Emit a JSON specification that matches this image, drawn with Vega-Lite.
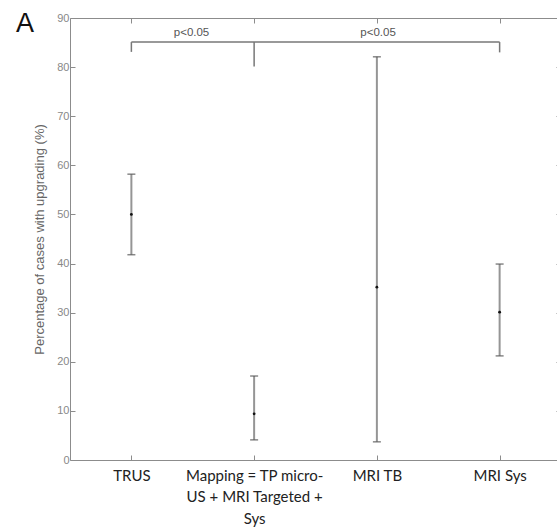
{
  "$schema": "https://vega.github.io/schema/vega-lite/v6.json",
  "width": 491,
  "height": 442,
  "autosize": {"type": "none"},
  "padding": {"left": 70, "top": 18, "right": 0, "bottom": 69},
  "background": "white",
  "title": {"text": "A", "anchor": "start", "frame": "group", "dx": -54, "dy": 53, "fontSize": 27, "font": "Liberation Sans", "fontWeight": "normal", "color": "#111", "baseline": "bottom", "offset": 0},
  "config": {"view": {"stroke": null}},
  "datasets": {
    "main": [
      {"group": "TRUS", "pos": 1, "mean": 50.0, "lo": 41.8, "hi": 58.2},
      {"group": "Mapping = TP micro-US + MRI Targeted + Sys", "pos": 2, "mean": 9.4, "lo": 4.1, "hi": 17.1},
      {"group": "MRI TB", "pos": 3, "mean": 35.2, "lo": 3.7, "hi": 82.1},
      {"group": "MRI Sys", "pos": 4, "mean": 30.1, "lo": 21.2, "hi": 39.9}
    ],
    "bracket": [
      {"x": 1, "x2": 4, "y": 85.1, "y2": 85.1},
      {"x": 1, "x2": 1, "y": 85.1, "y2": 83.1},
      {"x": 2, "x2": 2, "y": 85.1, "y2": 80.1},
      {"x": 4, "x2": 4, "y": 85.1, "y2": 83.0}
    ],
    "labels": [
      {"x": 1.49, "y": 86.9, "text": "p<0.05"},
      {"x": 3.01, "y": 86.9, "text": "p<0.05"}
    ]
  },
  "resolve": {"axis": {"x": "independent", "y": "independent"}},
  "layer": [
    {
      "data": {"name": "main"},
      "mark": {"type": "rule", "color": "#959595", "strokeWidth": 2},
      "encoding": {
        "x": {"field": "pos", "type": "quantitative", "scale": {"domain": [0.5, 4.5], "nice": false, "zero": false},
          "axis": {"orient": "bottom", "values": [1, 2, 3, 4], "grid": false, "title": null, "domainColor": "#8c8c8c", "tickColor": "#8c8c8c", "tickSize": -5, "labelPadding": 13,
            "labelExpr": "datum.value == 1 ? 'TRUS' : datum.value == 2 ? ['Mapping = TP micro-', 'US + MRI Targeted +', 'Sys'] : datum.value == 3 ? 'MRI TB' : 'MRI Sys'",
            "labelFont": "Lato", "labelFontSize": 15, "labelColor": "#222", "labelLineHeight": 21.5, "labelBaseline": "top"}},
        "y": {"field": "lo", "type": "quantitative", "scale": {"domain": [0, 90], "nice": false},
          "axis": {"orient": "left", "values": [0, 10, 20, 30, 40, 50, 60, 70, 80, 90], "grid": false, "title": "Percentage of cases with upgrading (%)", "titleFont": "Liberation Sans", "titleFontSize": 13, "titleFontWeight": "normal", "titleColor": "#666", "titlePadding": 10,
            "domainColor": "#8c8c8c", "tickColor": "#8c8c8c", "tickSize": -5, "labelPadding": 6, "labelFont": "Liberation Sans", "labelFontSize": 11, "labelColor": "#888888"}},
        "y2": {"field": "hi"}
      }
    },
    {
      "data": {"name": "main"},
      "mark": {"type": "tick", "orient": "horizontal", "color": "#555", "size": 8, "thickness": 1.5},
      "encoding": {
        "x": {"field": "pos", "type": "quantitative", "scale": {"domain": [0.5, 4.5], "nice": false, "zero": false}, "axis": null},
        "y": {"field": "lo", "type": "quantitative", "scale": {"domain": [0, 90], "nice": false}, "axis": null}
      }
    },
    {
      "data": {"name": "main"},
      "mark": {"type": "tick", "orient": "horizontal", "color": "#555", "size": 8, "thickness": 1.5},
      "encoding": {
        "x": {"field": "pos", "type": "quantitative", "scale": {"domain": [0.5, 4.5], "nice": false, "zero": false}, "axis": null},
        "y": {"field": "hi", "type": "quantitative", "scale": {"domain": [0, 90], "nice": false}, "axis": null}
      }
    },
    {
      "data": {"name": "main"},
      "mark": {"type": "point", "filled": true, "color": "#111", "size": 8, "opacity": 1},
      "encoding": {
        "x": {"field": "pos", "type": "quantitative", "scale": {"domain": [0.5, 4.5], "nice": false, "zero": false}, "axis": null},
        "y": {"field": "mean", "type": "quantitative", "scale": {"domain": [0, 90], "nice": false}, "axis": null}
      }
    },
    {
      "data": {"name": "bracket"},
      "mark": {"type": "rule", "color": "#777", "strokeWidth": 1.5},
      "encoding": {
        "x": {"field": "x", "type": "quantitative", "scale": {"domain": [0.5, 4.5], "nice": false, "zero": false},
          "axis": {"orient": "top", "values": [1, 2, 3, 4], "labels": false, "grid": false, "title": null, "domainColor": "#8c8c8c", "tickColor": "#8c8c8c", "tickSize": -5}},
        "x2": {"field": "x2"},
        "y": {"field": "y", "type": "quantitative", "scale": {"domain": [0, 90], "nice": false},
          "axis": {"orient": "right", "values": [0, 10, 20, 30, 40, 50, 60, 70, 80, 90], "labels": false, "grid": false, "title": null, "domainColor": "#8c8c8c", "tickColor": "#8c8c8c", "tickSize": -5}},
        "y2": {"field": "y2"}
      }
    },
    {
      "data": {"name": "labels"},
      "mark": {"type": "text", "font": "Liberation Sans", "fontSize": 11.5, "color": "#555", "baseline": "middle", "align": "center"},
      "encoding": {
        "x": {"field": "x", "type": "quantitative", "scale": {"domain": [0.5, 4.5], "nice": false, "zero": false}, "axis": null},
        "y": {"field": "y", "type": "quantitative", "scale": {"domain": [0, 90], "nice": false}, "axis": null},
        "text": {"field": "text"}
      }
    }
  ]
}
